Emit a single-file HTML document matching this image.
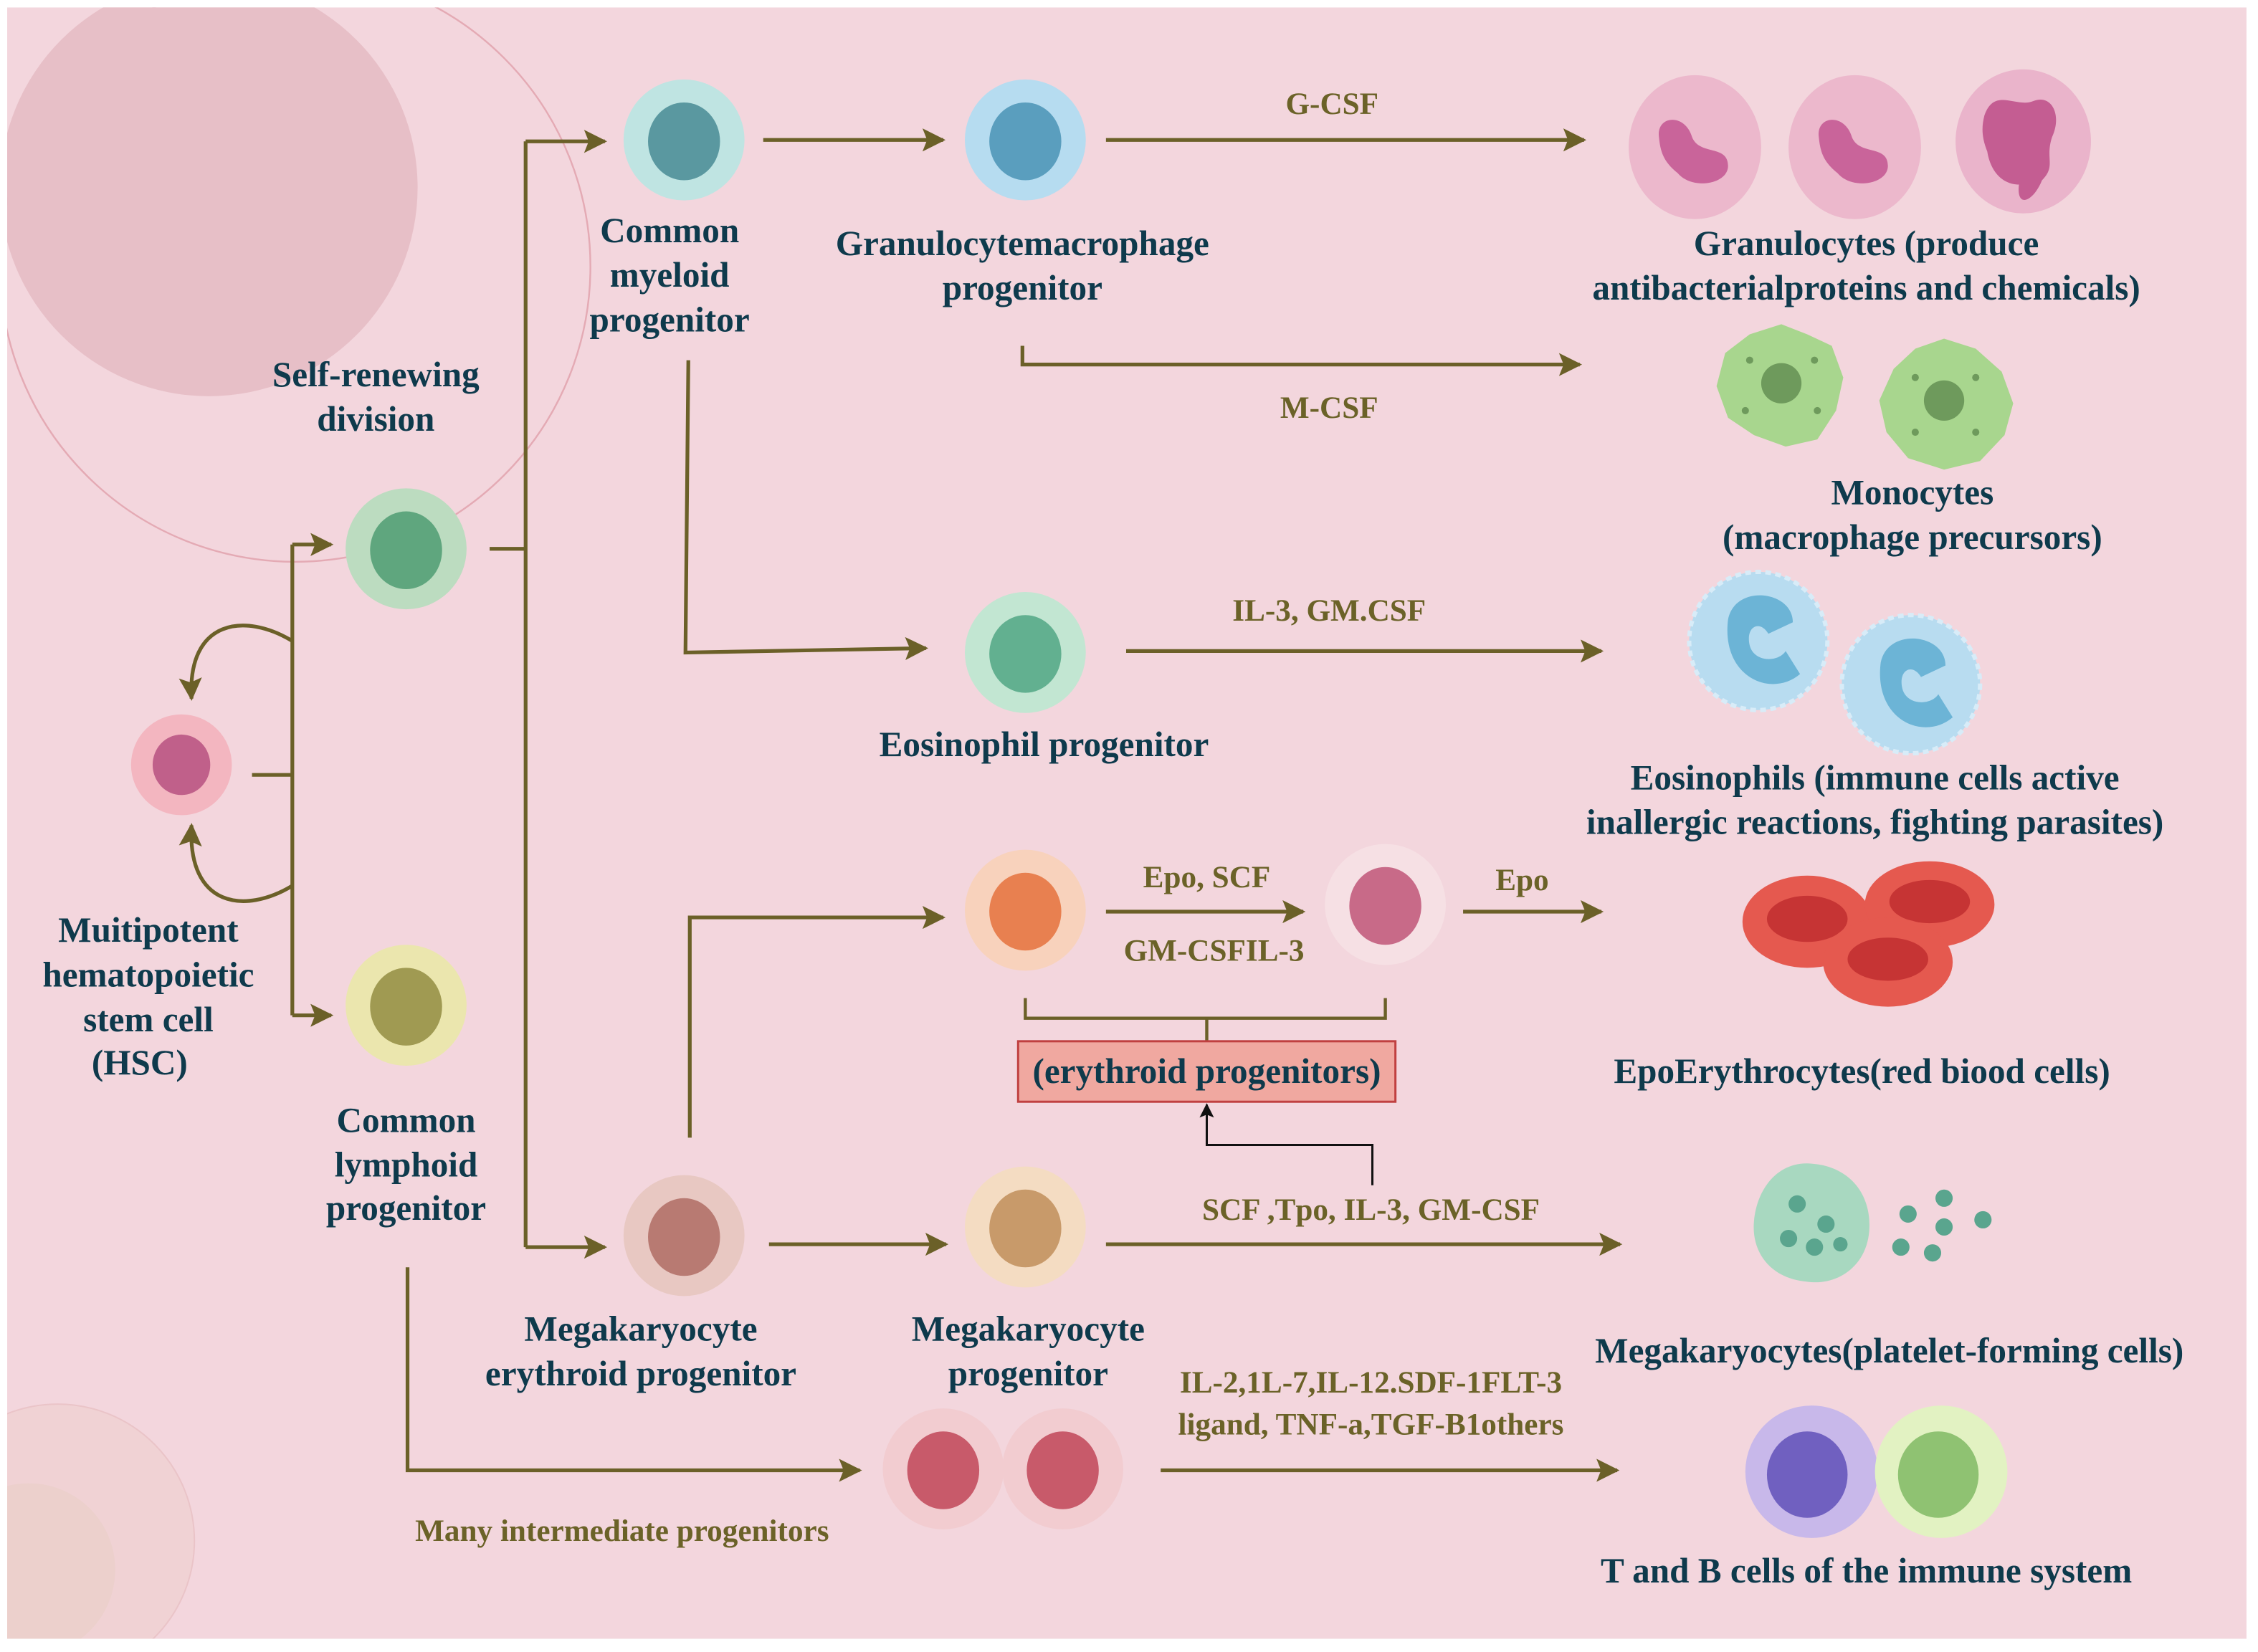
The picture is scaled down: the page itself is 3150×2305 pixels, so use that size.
<!DOCTYPE html>
<html><head><meta charset="utf-8"><style>
html,body{margin:0;padding:0;background:#fff;}
svg{display:block;}
.t{font-family:"Liberation Serif",serif;font-weight:bold;fill:#0e3a4c;font-size:24.5px;text-anchor:middle;}
.o{font-family:"Liberation Serif",serif;font-weight:bold;fill:#6b6228;font-size:21.5px;text-anchor:middle;}
.l{stroke:#6b6028;stroke-width:2.6;fill:none;}
</style></head><body>
<svg width="3150" height="2305" viewBox="0 0 1568 1147" xmlns="http://www.w3.org/2000/svg">
<defs>
<marker id="ar" viewBox="0 0 10 10" refX="9" refY="5" markerWidth="20" markerHeight="16" orient="auto" markerUnits="userSpaceOnUse"><path d="M0,0 L10,5 L0,10 L2,5 z" fill="#6b6028"/></marker>
<marker id="ab" viewBox="0 0 10 10" refX="9" refY="5" markerWidth="12" markerHeight="10" orient="auto" markerUnits="userSpaceOnUse"><path d="M0,0 L10,5 L0,10 L2,5 z" fill="#111"/></marker>
</defs>
<rect x="0" y="0" width="1568" height="1147" fill="#fff"/>
<rect x="5" y="5" width="1555" height="1133" fill="#f3d6dd"/>
<clipPath id="cp"><rect x="5" y="5" width="1555" height="1133"/></clipPath>
<g clip-path="url(#cp)">
<circle cx="205" cy="185" r="205" fill="none" stroke="#e4aab4" stroke-width="1.2"/>
<circle cx="145" cy="130" r="145" fill="#e7bfc7"/>
<circle cx="40" cy="1070" r="95" fill="#f0d2d4" stroke="#eac4c8" stroke-width="1"/>
<circle cx="20" cy="1090" r="60" fill="#ecd0cc"/>
</g>

<g class="l">
<path d="M175,538 H203"/>
<path d="M203,378 V705"/>
<path d="M203,378 H230" marker-end="url(#ar)"/>
<path d="M203,705 H230" marker-end="url(#ar)"/>
<path d="M203,445 C170,425 130,430 133,485" marker-end="url(#ar)"/>
<path d="M203,615 C170,635 130,630 133,573" marker-end="url(#ar)"/>
<path d="M340,381 H365"/>
<path d="M365,98 V866"/>
<path d="M365,98 H420" marker-end="url(#ar)"/>
<path d="M365,866 H420" marker-end="url(#ar)"/>
<path d="M530,97 H655" marker-end="url(#ar)"/>
<path d="M768,97 H1100" marker-end="url(#ar)"/>
<path d="M710,240 V253 H1097" marker-end="url(#ar)"/>
<path d="M478,250 L476,453 L643,450" marker-end="url(#ar)"/>
<path d="M782,452 H1112" marker-end="url(#ar)"/>
<path d="M479,790 V637 H655" marker-end="url(#ar)"/>
<path d="M768,633 H905" marker-end="url(#ar)"/>
<path d="M1016,633 H1112" marker-end="url(#ar)"/>
<path d="M534,864 H657" marker-end="url(#ar)"/>
<path d="M768,864 H1125" marker-end="url(#ar)"/>
<path d="M283,880 V1021 H597" marker-end="url(#ar)"/>
<path d="M806,1021 H1123" marker-end="url(#ar)"/>
<path d="M712,693 V707 H962 V693 M838,707 V723" stroke-width="2.2"/>
</g>
<path d="M953,823 V795 H838 V767" stroke="#111" stroke-width="1.5" fill="none" marker-end="url(#ab)"/>
<rect x="707" y="723" width="262" height="42" fill="#f0a8a0" stroke="#c04040" stroke-width="1.5"/>
<text class="t" x="838" y="752">(erythroid progenitors)</text>

<g>
<circle cx="126" cy="531" r="35" fill="#f3b6c0"/><ellipse cx="126" cy="531" rx="20" ry="21" fill="#c0608a"/>
<circle cx="282" cy="381" r="42" fill="#bcdcc0"/><ellipse cx="282" cy="382" rx="25" ry="27" fill="#5fa67e"/>
<circle cx="282" cy="698" r="42" fill="#ebe6ae"/><ellipse cx="282" cy="699" rx="25" ry="27" fill="#a09a52"/>
<circle cx="475" cy="97" r="42" fill="#bfe4e2"/><ellipse cx="475" cy="98" rx="25" ry="27" fill="#5a98a0"/>
<circle cx="712" cy="97" r="42" fill="#b6dcf0"/><ellipse cx="712" cy="98" rx="25" ry="27" fill="#5a9ebe"/>
<circle cx="712" cy="453" r="42" fill="#c2e6d2"/><ellipse cx="712" cy="454" rx="25" ry="27" fill="#62b090"/>
<circle cx="712" cy="632" r="42" fill="#f8d2bc"/><ellipse cx="712" cy="633" rx="25" ry="27" fill="#e88050"/>
<circle cx="962" cy="628" r="42" fill="#f6e0e4"/><ellipse cx="962" cy="629" rx="25" ry="27" fill="#c86a88"/>
<circle cx="475" cy="858" r="42" fill="#e8c8c2"/><ellipse cx="475" cy="859" rx="25" ry="27" fill="#b87a72"/>
<circle cx="712" cy="852" r="42" fill="#f4dcc2"/><ellipse cx="712" cy="853" rx="25" ry="27" fill="#c89a6a"/>
<circle cx="655" cy="1020" r="42" fill="#f2ccd0"/><ellipse cx="655" cy="1021" rx="25" ry="27" fill="#c85a6a"/>
<circle cx="738" cy="1020" r="42" fill="#f2ccd0"/><ellipse cx="738" cy="1021" rx="25" ry="27" fill="#c85a6a"/>
</g>

<ellipse cx="1177" cy="102" rx="46" ry="50" fill="#ecb8cc"/>
<path d="M1152,95 C1150,80 1170,78 1175,95 C1180,108 1200,100 1200,115 C1200,128 1175,132 1165,120 C1155,112 1153,105 1152,95z" fill="#c9649a"/>
<ellipse cx="1288" cy="102" rx="46" ry="50" fill="#ecb8cc"/>
<path d="M1263,95 C1261,80 1281,78 1286,95 C1291,108 1311,100 1311,115 C1311,128 1286,132 1276,120 C1266,112 1264,105 1263,95z" fill="#c9649a"/>
<ellipse cx="1405" cy="98" rx="47" ry="50" fill="#eab4cb"/>
<path d="M1378,80 C1385,60 1400,75 1412,70 C1425,65 1432,80 1425,95 C1420,110 1428,115 1418,125 C1412,140 1400,145 1402,128 C1390,128 1382,118 1380,105 C1376,95 1376,88 1378,80z" fill="#c45d92"/>

<g fill="#a8d68e">
<path d="M1237,225 L1255,232 L1272,240 L1280,262 L1275,285 L1262,305 L1240,310 L1218,302 L1200,290 L1192,268 L1198,245 L1215,232z"/>
<path d="M1350,235 L1372,242 L1390,258 L1398,280 L1392,302 L1375,320 L1350,326 L1325,318 L1310,300 L1305,278 L1315,256 L1330,242z"/>
</g>
<circle cx="1237" cy="266" r="14" fill="#6e9a5c"/><circle cx="1350" cy="278" r="14" fill="#6e9a5c"/>
<g fill="#6e9a5c"><circle cx="1215" cy="250" r="2.5"/><circle cx="1260" cy="250" r="2.5"/><circle cx="1212" cy="285" r="2.5"/><circle cx="1262" cy="285" r="2.5"/><circle cx="1330" cy="262" r="2.5"/><circle cx="1372" cy="262" r="2.5"/><circle cx="1330" cy="300" r="2.5"/><circle cx="1372" cy="300" r="2.5"/></g>

<circle cx="1221" cy="445" r="48" fill="#b8dcf0" stroke="#d8ecf8" stroke-width="3" stroke-dasharray="4 3"/>
<path d="M1200,430 C1205,405 1245,410 1245,432 L1228,440 C1222,430 1212,435 1215,448 C1218,460 1235,460 1240,452 L1250,468 C1230,485 1195,470 1200,430z" fill="#6cb4d6"/>
<circle cx="1327" cy="475" r="48" fill="#b8dcf0" stroke="#d8ecf8" stroke-width="3" stroke-dasharray="4 3"/>
<path d="M1306,460 C1311,435 1351,440 1351,462 L1334,470 C1328,460 1318,465 1321,478 C1324,490 1341,490 1346,482 L1356,498 C1336,515 1301,500 1306,460z" fill="#6cb4d6"/>

<ellipse cx="1255" cy="640" rx="45" ry="32" fill="#e5594f"/><ellipse cx="1255" cy="638" rx="28" ry="16" fill="#c63434"/>
<ellipse cx="1340" cy="628" rx="45" ry="30" fill="#e5594f"/><ellipse cx="1340" cy="626" rx="28" ry="15" fill="#c63434"/>
<ellipse cx="1311" cy="668" rx="45" ry="31" fill="#e5594f"/><ellipse cx="1311" cy="666" rx="28" ry="15" fill="#c63434"/>

<path d="M1258,808 C1285,810 1300,830 1298,855 C1296,880 1275,893 1255,890 C1230,888 1216,870 1218,848 C1220,825 1235,806 1258,808z" fill="#a8d8c0"/>
<g fill="#5aa58e"><circle cx="1248" cy="836" r="6"/><circle cx="1268" cy="850" r="6"/><circle cx="1242" cy="860" r="6"/><circle cx="1260" cy="866" r="6"/><circle cx="1278" cy="864" r="5"/><circle cx="1325" cy="843" r="6"/><circle cx="1350" cy="832" r="6"/><circle cx="1350" cy="852" r="6"/><circle cx="1377" cy="847" r="6"/><circle cx="1320" cy="866" r="6"/><circle cx="1342" cy="870" r="6"/></g>

<circle cx="1258" cy="1022" r="46" fill="#c8b8ea"/><ellipse cx="1255" cy="1024" rx="28" ry="30" fill="#7060c0"/>
<circle cx="1348" cy="1022" r="46" fill="#e2f2c2"/><ellipse cx="1346" cy="1024" rx="28" ry="30" fill="#8fc272"/>

<text class="t" x="261" y="268">Self-renewing</text><text class="t" x="261" y="299">division</text>
<text class="t" x="103" y="654">Muitipotent</text><text class="t" x="103" y="685">hematopoietic</text><text class="t" x="103" y="716">stem cell</text><text class="t" x="97" y="746">(HSC)</text>
<text class="t" x="282" y="786">Common</text><text class="t" x="282" y="817">lymphoid</text><text class="t" x="282" y="847">progenitor</text>
<text class="t" x="465" y="168">Common</text><text class="t" x="465" y="199">myeloid</text><text class="t" x="465" y="230">progenitor</text>
<text class="t" x="710" y="177">Granulocytemacrophage</text><text class="t" x="710" y="208">progenitor</text>
<text class="t" x="1296" y="177">Granulocytes (produce</text><text class="t" x="1296" y="208">antibacterialproteins and chemicals)</text>
<text class="t" x="1328" y="350">Monocytes</text><text class="t" x="1328" y="381">(macrophage precursors)</text>
<text class="t" x="725" y="525">Eosinophil progenitor</text>
<text class="t" x="1302" y="548">Eosinophils (immune cells active</text><text class="t" x="1302" y="579">inallergic reactions, fighting parasites)</text>
<text class="t" x="1293" y="752">EpoErythrocytes(red biood cells)</text>
<text class="t" x="445" y="931">Megakaryocyte</text><text class="t" x="445" y="962">erythroid progenitor</text>
<text class="t" x="714" y="931">Megakaryocyte</text><text class="t" x="714" y="962">progenitor</text>
<text class="t" x="1312" y="946">Megakaryocytes(platelet-forming cells)</text>
<text class="t" x="1296" y="1099">T and B cells of the immune system</text>

<text class="o" x="925" y="79">G-CSF</text>
<text class="o" x="923" y="290">M-CSF</text>
<text class="o" x="923" y="431">IL-3, GM.CSF</text>
<text class="o" x="838" y="616">Epo, SCF</text>
<text class="o" x="843" y="667">GM-CSFIL-3</text>
<text class="o" x="1057" y="618">Epo</text>
<text class="o" x="952" y="847">SCF ,Tpo, IL-3, GM-CSF</text>
<text class="o" x="952" y="967">IL-2,1L-7,IL-12.SDF-1FLT-3</text>
<text class="o" x="952" y="996">ligand, TNF-a,TGF-B1others</text>
<text class="o" x="432" y="1070">Many intermediate progenitors</text>
</svg>
</body></html>
